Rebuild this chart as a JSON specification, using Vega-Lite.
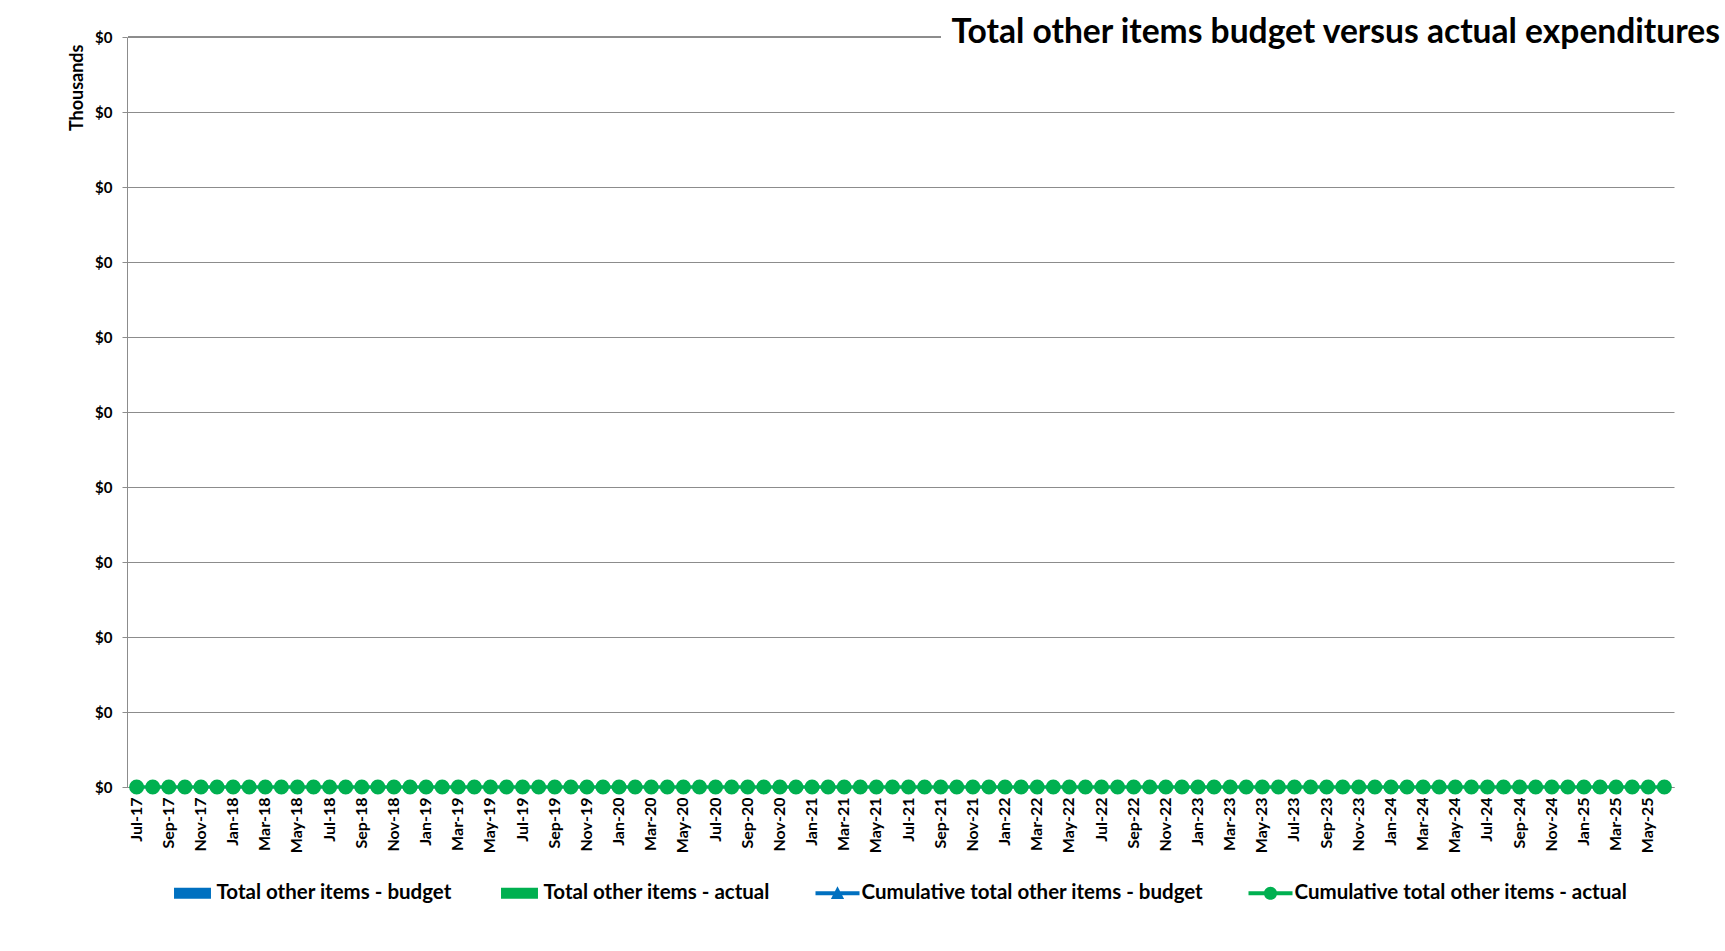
{
  "$schema": "https://vega.github.io/schema/vega-lite/v6.json",
  "autosize": {"type": "none"},
  "padding": {"left": 127, "top": 37, "right": 51, "bottom": 164},
  "width": 1547,
  "height": 750,
  "background": "white",
  "config": {
    "view": {"stroke": null},
    "font": "Lato",
    "axis": {"labelFont": "Lato", "titleFont": "Lato", "labelFontWeight": "bold", "titleFontWeight": "bold", "labelColor": "black", "titleColor": "black"},
    "legend": {"labelFont": "Lato", "labelFontWeight": "bold", "labelColor": "black"}
  },
  "title": {
    "text": "Total other items budget versus actual expenditures",
    "anchor": "end",
    "frame": "group",
    "font": "Lato",
    "fontSize": 33.6,
    "fontWeight": "bold",
    "color": "black",
    "baseline": "alphabetic",
    "offset": 0,
    "dx": 46,
    "dy": 47
  },
  "data": {"values": [
    {"month":"Jul-17","budget":0,"actual":0,"cum_budget":0,"cum_actual":0},
    {"month":"Aug-17","budget":0,"actual":0,"cum_budget":0,"cum_actual":0},
    {"month":"Sep-17","budget":0,"actual":0,"cum_budget":0,"cum_actual":0},
    {"month":"Oct-17","budget":0,"actual":0,"cum_budget":0,"cum_actual":0},
    {"month":"Nov-17","budget":0,"actual":0,"cum_budget":0,"cum_actual":0},
    {"month":"Dec-17","budget":0,"actual":0,"cum_budget":0,"cum_actual":0},
    {"month":"Jan-18","budget":0,"actual":0,"cum_budget":0,"cum_actual":0},
    {"month":"Feb-18","budget":0,"actual":0,"cum_budget":0,"cum_actual":0},
    {"month":"Mar-18","budget":0,"actual":0,"cum_budget":0,"cum_actual":0},
    {"month":"Apr-18","budget":0,"actual":0,"cum_budget":0,"cum_actual":0},
    {"month":"May-18","budget":0,"actual":0,"cum_budget":0,"cum_actual":0},
    {"month":"Jun-18","budget":0,"actual":0,"cum_budget":0,"cum_actual":0},
    {"month":"Jul-18","budget":0,"actual":0,"cum_budget":0,"cum_actual":0},
    {"month":"Aug-18","budget":0,"actual":0,"cum_budget":0,"cum_actual":0},
    {"month":"Sep-18","budget":0,"actual":0,"cum_budget":0,"cum_actual":0},
    {"month":"Oct-18","budget":0,"actual":0,"cum_budget":0,"cum_actual":0},
    {"month":"Nov-18","budget":0,"actual":0,"cum_budget":0,"cum_actual":0},
    {"month":"Dec-18","budget":0,"actual":0,"cum_budget":0,"cum_actual":0},
    {"month":"Jan-19","budget":0,"actual":0,"cum_budget":0,"cum_actual":0},
    {"month":"Feb-19","budget":0,"actual":0,"cum_budget":0,"cum_actual":0},
    {"month":"Mar-19","budget":0,"actual":0,"cum_budget":0,"cum_actual":0},
    {"month":"Apr-19","budget":0,"actual":0,"cum_budget":0,"cum_actual":0},
    {"month":"May-19","budget":0,"actual":0,"cum_budget":0,"cum_actual":0},
    {"month":"Jun-19","budget":0,"actual":0,"cum_budget":0,"cum_actual":0},
    {"month":"Jul-19","budget":0,"actual":0,"cum_budget":0,"cum_actual":0},
    {"month":"Aug-19","budget":0,"actual":0,"cum_budget":0,"cum_actual":0},
    {"month":"Sep-19","budget":0,"actual":0,"cum_budget":0,"cum_actual":0},
    {"month":"Oct-19","budget":0,"actual":0,"cum_budget":0,"cum_actual":0},
    {"month":"Nov-19","budget":0,"actual":0,"cum_budget":0,"cum_actual":0},
    {"month":"Dec-19","budget":0,"actual":0,"cum_budget":0,"cum_actual":0},
    {"month":"Jan-20","budget":0,"actual":0,"cum_budget":0,"cum_actual":0},
    {"month":"Feb-20","budget":0,"actual":0,"cum_budget":0,"cum_actual":0},
    {"month":"Mar-20","budget":0,"actual":0,"cum_budget":0,"cum_actual":0},
    {"month":"Apr-20","budget":0,"actual":0,"cum_budget":0,"cum_actual":0},
    {"month":"May-20","budget":0,"actual":0,"cum_budget":0,"cum_actual":0},
    {"month":"Jun-20","budget":0,"actual":0,"cum_budget":0,"cum_actual":0},
    {"month":"Jul-20","budget":0,"actual":0,"cum_budget":0,"cum_actual":0},
    {"month":"Aug-20","budget":0,"actual":0,"cum_budget":0,"cum_actual":0},
    {"month":"Sep-20","budget":0,"actual":0,"cum_budget":0,"cum_actual":0},
    {"month":"Oct-20","budget":0,"actual":0,"cum_budget":0,"cum_actual":0},
    {"month":"Nov-20","budget":0,"actual":0,"cum_budget":0,"cum_actual":0},
    {"month":"Dec-20","budget":0,"actual":0,"cum_budget":0,"cum_actual":0},
    {"month":"Jan-21","budget":0,"actual":0,"cum_budget":0,"cum_actual":0},
    {"month":"Feb-21","budget":0,"actual":0,"cum_budget":0,"cum_actual":0},
    {"month":"Mar-21","budget":0,"actual":0,"cum_budget":0,"cum_actual":0},
    {"month":"Apr-21","budget":0,"actual":0,"cum_budget":0,"cum_actual":0},
    {"month":"May-21","budget":0,"actual":0,"cum_budget":0,"cum_actual":0},
    {"month":"Jun-21","budget":0,"actual":0,"cum_budget":0,"cum_actual":0},
    {"month":"Jul-21","budget":0,"actual":0,"cum_budget":0,"cum_actual":0},
    {"month":"Aug-21","budget":0,"actual":0,"cum_budget":0,"cum_actual":0},
    {"month":"Sep-21","budget":0,"actual":0,"cum_budget":0,"cum_actual":0},
    {"month":"Oct-21","budget":0,"actual":0,"cum_budget":0,"cum_actual":0},
    {"month":"Nov-21","budget":0,"actual":0,"cum_budget":0,"cum_actual":0},
    {"month":"Dec-21","budget":0,"actual":0,"cum_budget":0,"cum_actual":0},
    {"month":"Jan-22","budget":0,"actual":0,"cum_budget":0,"cum_actual":0},
    {"month":"Feb-22","budget":0,"actual":0,"cum_budget":0,"cum_actual":0},
    {"month":"Mar-22","budget":0,"actual":0,"cum_budget":0,"cum_actual":0},
    {"month":"Apr-22","budget":0,"actual":0,"cum_budget":0,"cum_actual":0},
    {"month":"May-22","budget":0,"actual":0,"cum_budget":0,"cum_actual":0},
    {"month":"Jun-22","budget":0,"actual":0,"cum_budget":0,"cum_actual":0},
    {"month":"Jul-22","budget":0,"actual":0,"cum_budget":0,"cum_actual":0},
    {"month":"Aug-22","budget":0,"actual":0,"cum_budget":0,"cum_actual":0},
    {"month":"Sep-22","budget":0,"actual":0,"cum_budget":0,"cum_actual":0},
    {"month":"Oct-22","budget":0,"actual":0,"cum_budget":0,"cum_actual":0},
    {"month":"Nov-22","budget":0,"actual":0,"cum_budget":0,"cum_actual":0},
    {"month":"Dec-22","budget":0,"actual":0,"cum_budget":0,"cum_actual":0},
    {"month":"Jan-23","budget":0,"actual":0,"cum_budget":0,"cum_actual":0},
    {"month":"Feb-23","budget":0,"actual":0,"cum_budget":0,"cum_actual":0},
    {"month":"Mar-23","budget":0,"actual":0,"cum_budget":0,"cum_actual":0},
    {"month":"Apr-23","budget":0,"actual":0,"cum_budget":0,"cum_actual":0},
    {"month":"May-23","budget":0,"actual":0,"cum_budget":0,"cum_actual":0},
    {"month":"Jun-23","budget":0,"actual":0,"cum_budget":0,"cum_actual":0},
    {"month":"Jul-23","budget":0,"actual":0,"cum_budget":0,"cum_actual":0},
    {"month":"Aug-23","budget":0,"actual":0,"cum_budget":0,"cum_actual":0},
    {"month":"Sep-23","budget":0,"actual":0,"cum_budget":0,"cum_actual":0},
    {"month":"Oct-23","budget":0,"actual":0,"cum_budget":0,"cum_actual":0},
    {"month":"Nov-23","budget":0,"actual":0,"cum_budget":0,"cum_actual":0},
    {"month":"Dec-23","budget":0,"actual":0,"cum_budget":0,"cum_actual":0},
    {"month":"Jan-24","budget":0,"actual":0,"cum_budget":0,"cum_actual":0},
    {"month":"Feb-24","budget":0,"actual":0,"cum_budget":0,"cum_actual":0},
    {"month":"Mar-24","budget":0,"actual":0,"cum_budget":0,"cum_actual":0},
    {"month":"Apr-24","budget":0,"actual":0,"cum_budget":0,"cum_actual":0},
    {"month":"May-24","budget":0,"actual":0,"cum_budget":0,"cum_actual":0},
    {"month":"Jun-24","budget":0,"actual":0,"cum_budget":0,"cum_actual":0},
    {"month":"Jul-24","budget":0,"actual":0,"cum_budget":0,"cum_actual":0},
    {"month":"Aug-24","budget":0,"actual":0,"cum_budget":0,"cum_actual":0},
    {"month":"Sep-24","budget":0,"actual":0,"cum_budget":0,"cum_actual":0},
    {"month":"Oct-24","budget":0,"actual":0,"cum_budget":0,"cum_actual":0},
    {"month":"Nov-24","budget":0,"actual":0,"cum_budget":0,"cum_actual":0},
    {"month":"Dec-24","budget":0,"actual":0,"cum_budget":0,"cum_actual":0},
    {"month":"Jan-25","budget":0,"actual":0,"cum_budget":0,"cum_actual":0},
    {"month":"Feb-25","budget":0,"actual":0,"cum_budget":0,"cum_actual":0},
    {"month":"Mar-25","budget":0,"actual":0,"cum_budget":0,"cum_actual":0},
    {"month":"Apr-25","budget":0,"actual":0,"cum_budget":0,"cum_actual":0},
    {"month":"May-25","budget":0,"actual":0,"cum_budget":0,"cum_actual":0},
    {"month":"Jun-25","budget":0,"actual":0,"cum_budget":0,"cum_actual":0}
  ]},
  "encoding": {
    "x": {
      "field": "month",
      "type": "nominal",
      "sort": null,
      "scale": {
        "paddingInner": 0,
        "paddingOuter": 0.1,
        "domain": ["Jul-17","Aug-17","Sep-17","Oct-17","Nov-17","Dec-17","Jan-18","Feb-18","Mar-18","Apr-18","May-18","Jun-18","Jul-18","Aug-18","Sep-18","Oct-18","Nov-18","Dec-18","Jan-19","Feb-19","Mar-19","Apr-19","May-19","Jun-19","Jul-19","Aug-19","Sep-19","Oct-19","Nov-19","Dec-19","Jan-20","Feb-20","Mar-20","Apr-20","May-20","Jun-20","Jul-20","Aug-20","Sep-20","Oct-20","Nov-20","Dec-20","Jan-21","Feb-21","Mar-21","Apr-21","May-21","Jun-21","Jul-21","Aug-21","Sep-21","Oct-21","Nov-21","Dec-21","Jan-22","Feb-22","Mar-22","Apr-22","May-22","Jun-22","Jul-22","Aug-22","Sep-22","Oct-22","Nov-22","Dec-22","Jan-23","Feb-23","Mar-23","Apr-23","May-23","Jun-23","Jul-23","Aug-23","Sep-23","Oct-23","Nov-23","Dec-23","Jan-24","Feb-24","Mar-24","Apr-24","May-24","Jun-24","Jul-24","Aug-24","Sep-24","Oct-24","Nov-24","Dec-24","Jan-25","Feb-25","Mar-25","Apr-25","May-25","Jun-25"]
      },
      "axis": {
        "title": null,
        "labelAngle": -90,
        "labelFontSize": 16,
        "labelPadding": 10,
        "ticks": false,
        "domainColor": "#8c8c8c",
        "labelOverlap": false,
        "values": ["Jul-17","Sep-17","Nov-17","Jan-18","Mar-18","May-18","Jul-18","Sep-18","Nov-18","Jan-19","Mar-19","May-19","Jul-19","Sep-19","Nov-19","Jan-20","Mar-20","May-20","Jul-20","Sep-20","Nov-20","Jan-21","Mar-21","May-21","Jul-21","Sep-21","Nov-21","Jan-22","Mar-22","May-22","Jul-22","Sep-22","Nov-22","Jan-23","Mar-23","May-23","Jul-23","Sep-23","Nov-23","Jan-24","Mar-24","May-24","Jul-24","Sep-24","Nov-24","Jan-25","Mar-25","May-25"]
      }
    }
  },
  "layer": [
    {
      "mark": {"type": "rule", "color": "#8c8c8c", "strokeWidth": 1},
      "encoding": {
        "x": {"datum": "Jul-17", "bandPosition": 0},
        "x2": {"datum": "Sep-21"},
        "y": {"datum": 10}
      }
    },
    {
      "transform": [{"fold": ["budget", "actual"], "as": ["series", "value"]}],
      "mark": {"type": "bar"},
      "encoding": {
        "xOffset": {"field": "series", "type": "nominal", "sort": ["budget", "actual"]},
        "y": {
          "field": "value",
          "type": "quantitative",
          "scale": {"domain": [0, 10]},
          "axis": {
            "title": "Thousands",
            "titleFontSize": 18,
            "titleAngle": -90,
            "titleAlign": "right",
            "titleBaseline": "middle",
            "titleX": -50,
            "titleY": 7,
            "values": [0,1,2,3,4,5,6,7,8,9,10],
            "labelExpr": "'$0'",
            "labelFontSize": 15,
            "labelPadding": 10,
            "tickSize": 5,
            "tickColor": "#8c8c8c",
            "domainColor": "#8c8c8c",
            "grid": true,
            "gridColor": "#8c8c8c",
            "gridOpacity": {"condition": {"test": "datum.value === 10", "value": 0}, "value": 1}
          }
        },
        "color": {
          "field": "series",
          "type": "nominal",
          "scale": {"domain": ["budget", "actual", "cum_budget", "cum_actual"], "range": ["#0070C0", "#00B050", "#0070C0", "#00B050"]},
          "legend": {
            "title": null,
            "orient": "none",
            "legendX": 43.5,
            "legendY": 834,
            "direction": "horizontal",
            "columns": 4,
            "columnPadding": 45,
            "labelFontSize": 20.5,
            "labelOffset": 2,
            "labelLimit": 600,
            "symbolSize": 1936,
            "labelExpr": "datum.value === 'budget' ? 'Total other items - budget' : datum.value === 'actual' ? 'Total other items - actual' : datum.value === 'cum_budget' ? 'Cumulative total other items - budget' : 'Cumulative total other items - actual'",
            "encode": {
              "symbols": {
                "update": {
                  "shape": {"signal": "(datum.value === 'budget' || datum.value === 'actual') ? 'M-0.84,-0.25H0.84V0.25H-0.84Z' : datum.value === 'cum_budget' ? 'M-1,-0.09H1V0.09H-1Z M-0.3,0.26L0,-0.32L0.3,0.26Z' : 'M-1,-0.09H1V0.09H-1Z M-0.3,0A0.3,0.3 0 1,1 0.3,0A0.3,0.3 0 1,1 -0.3,0Z'"},
                  "fill": {"signal": "(datum.value === 'budget' || datum.value === 'cum_budget') ? '#0070C0' : '#00B050'"},
                  "fillOpacity": {"value": 1},
                  "opacity": {"value": 1},
                  "strokeWidth": {"value": 0},
                  "size": {"value": 1936}
                }
              }
            }
          }
        }
      }
    },
    {
      "transform": [{"fold": ["cum_budget"], "as": ["series", "value"]}],
      "mark": {"type": "line", "strokeWidth": 3},
      "encoding": {
        "y": {"field": "value", "type": "quantitative"},
        "color": {"field": "series", "type": "nominal"}
      }
    },
    {
      "transform": [{"fold": ["cum_budget"], "as": ["series", "value"]}],
      "mark": {"type": "point", "shape": "triangle-up", "filled": true, "size": 90, "opacity": 1},
      "encoding": {
        "y": {"field": "value", "type": "quantitative"},
        "color": {"field": "series", "type": "nominal"}
      }
    },
    {
      "transform": [{"fold": ["cum_actual"], "as": ["series", "value"]}],
      "mark": {"type": "line", "strokeWidth": 3},
      "encoding": {
        "y": {"field": "value", "type": "quantitative"},
        "color": {"field": "series", "type": "nominal"}
      }
    },
    {
      "transform": [{"fold": ["cum_actual"], "as": ["series", "value"]}],
      "mark": {"type": "point", "shape": "circle", "filled": true, "size": 227, "opacity": 1},
      "encoding": {
        "y": {"field": "value", "type": "quantitative"},
        "color": {"field": "series", "type": "nominal"}
      }
    }
  ]
}
